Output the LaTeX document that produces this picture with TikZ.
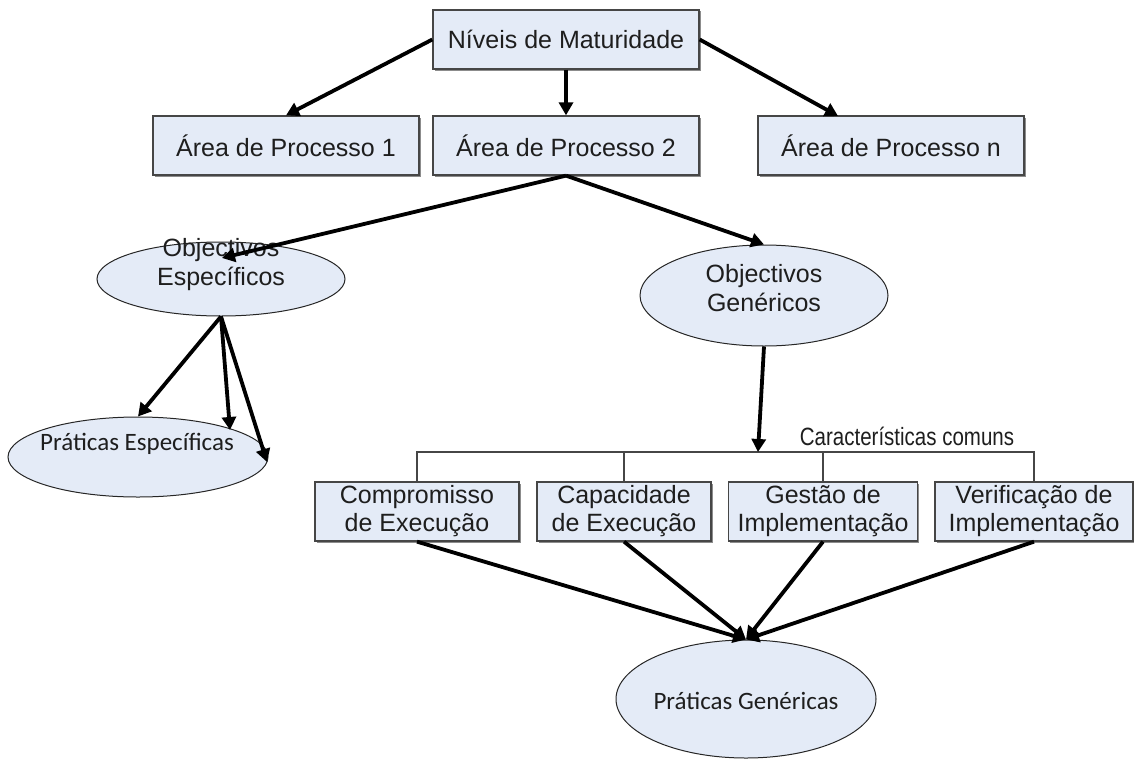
\documentclass[tikz,border=0pt]{standalone}
\usepackage{fontspec}
\setmainfont{Liberation Sans}
\newfontfamily\calfont{Carlito}
\newfontfamily\narrowfont[FakeStretch=0.82]{Liberation Sans}
\usetikzlibrary{shapes.geometric,arrows.meta,shadows,calc}

\definecolor{boxfill}{RGB}{228,235,247}
\definecolor{boxline}{RGB}{70,70,70}
\definecolor{txt}{RGB}{30,30,30}

\begin{document}
\begin{tikzpicture}[x=1pt,y=-1pt,
  box/.style={draw=boxline, line width=1.3pt, fill=boxfill, inner sep=0pt,
    text=txt, font=\fontsize{25}{28}\selectfont, align=center,
    minimum height=59pt,
    drop shadow={shadow xshift=1.5pt, shadow yshift=-1.5pt, fill=black!45, opacity=1}},
  oval/.style={ellipse, draw=black!85, line width=1pt, fill=boxfill, inner sep=0pt},
  lbl/.style={text=txt, font=\fontsize{25}{29}\selectfont, align=center, inner sep=0pt},
  arr/.style={line width=3.8pt, -{Triangle[length=13pt,width=14pt]}},
  bus/.style={draw=boxline, line width=1.3pt}]

\useasboundingbox (0,0) rectangle (1134,760);

% maturity level and process areas
\node[box, minimum width=266pt] (top) at (566,39.5) {Níveis de Maturidade};
\node[box, minimum width=266pt] (a1) at (286,145.5) {Área de Processo 1};
\node[box, minimum width=266pt] (a2) at (566,145.5) {Área de Processo 2};
\node[box, minimum width=266pt] (an) at (891,145.5) {Área de Processo n};

% goals
\node[oval, minimum width=248pt, minimum height=74pt] (oe) at (221,279) {};
\node[lbl] (oet) at (221,265) {Objectivos\\Específicos};
\node[oval, minimum width=248pt, minimum height=101pt] (og) at (764,295.5) {};
\node[lbl] (ogt) at (764,288) {Objectivos\\Genéricos};

% practices
\node[oval, minimum width=260pt, minimum height=80pt] (pe) at (138,457) {};
\node[lbl, font=\calfont\fontsize{25}{29}\selectfont] (pet) at (137,444) {Práticas Específicas};
\node[oval, minimum width=260pt, minimum height=118pt] (pg) at (746,699) {};
\node[lbl, font=\calfont\fontsize{25}{29}\selectfont] (pgt) at (746,701) {Práticas Genéricas};

% common features
\node[box, minimum width=204pt] (ca) at (417,511.5) {Compromisso\\de Execução};
\node[box, minimum width=174pt] (cb) at (624,511.5) {Capacidade\\de Execução};
\node[box, minimum width=189pt] (cc) at (823,511.5) {Gestão de\\Implementação};
\node[box, minimum width=198pt] (cd) at (1034,511.5) {Verificação de\\Implementação};
\node[lbl, font=\narrowfont\fontsize{25}{29}\selectfont] (cfl) at (907,436) {Características comuns};

% connector end points
\coordinate (antop) at (838,116);
\coordinate (oein) at (222,258);
\coordinate (pe2) at (230,430);
\coordinate (pe3) at (267,462);
\coordinate (busy) at (758,452);

% bracket over the common features
\draw[bus] (ca.north) |- (busy) -| (cd.north);
\draw[bus] (cb.north) -- (cb.north |- busy);
\draw[bus] (cc.north) -- (cc.north |- busy);

% arrows
\draw[arr] (top.west) -- (a1.north);
\draw[arr] (top.south) -- (a2.north);
\draw[arr] (top.east) -- (antop);
\draw[arr] (a2.south) -- (oein);
\draw[arr] (a2.south) -- (og.north);
\draw[arr] (oe.south) -- (pe.north);
\draw[arr] (oe.south) -- (pe2);
\draw[arr] (oe.south) -- (pe3);
\draw[arr] (og.south) -- (busy);
\draw[arr] (ca.south) -- (pg.north);
\draw[arr] (cb.south) -- (pg.north);
\draw[arr] (cc.south) -- (pg.north);
\draw[arr] (cd.south) -- (pg.north);
\end{tikzpicture}
\end{document}
